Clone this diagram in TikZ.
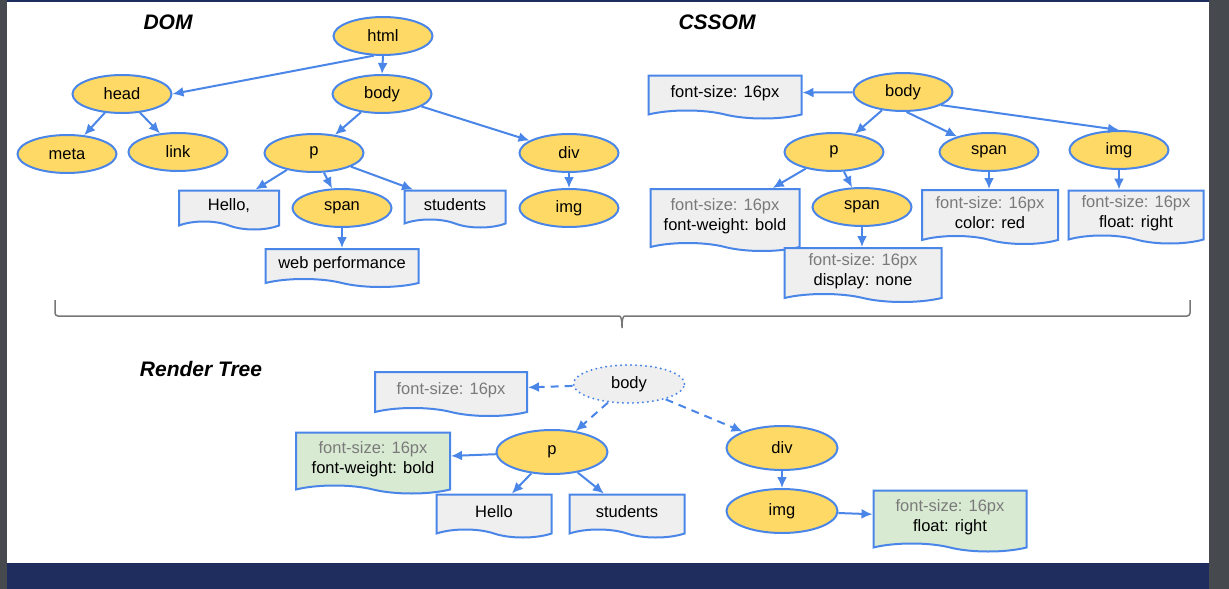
\documentclass[tikz,border=0pt]{standalone}
\usepackage{fontspec}
\setmainfont{Liberation Sans}
\usetikzlibrary{shapes.geometric,shapes.symbols,arrows.meta}
\definecolor{tagyellow}{HTML}{FFD966}
\definecolor{lineblue}{HTML}{4A86E8}
\definecolor{docgray}{HTML}{EFEFEF}
\definecolor{docgreen}{HTML}{D9EAD3}
\definecolor{softtext}{HTML}{7A7A7A}
\definecolor{framegray}{HTML}{46494D}
\definecolor{navybar}{HTML}{1F2D5E}
\definecolor{bracegray}{HTML}{777777}
\begin{document}
\begin{tikzpicture}[x=1pt,y=-1pt,font=\fontsize{16.5}{20}\selectfont]
	\tikzstyle{tag}=[ellipse,draw=lineblue,line width=2pt,fill=tagyellow,minimum width=99pt,minimum height=38pt,inner sep=0pt]
	\tikzstyle{bigtag}=[tag,minimum width=111pt,minimum height=44pt]
	\tikzstyle{ghost}=[bigtag,minimum height=38pt,fill=docgray,line width=2.2pt,line cap=round,dash pattern=on 0pt off 5pt]
	\tikzstyle{doc}=[tape,tape bend top=none,tape bend bottom=out and in,tape bend height=8pt,draw=lineblue,line width=2pt,fill=docgray,inner sep=0pt,align=center]
	\tikzstyle{greendoc}=[doc,fill=docgreen]
	\tikzstyle{arr}=[lineblue,line width=2pt,-{Latex[length=11pt,width=10pt]}]
	\tikzstyle{darr}=[arr,dash pattern=on 8pt off 6pt]
	\tikzstyle{title}=[font=\fontsize{21}{25}\selectfont\bfseries\itshape]

	% frame
	\fill[framegray] (0,0) rectangle (1229,589);
	\fill[white] (7,2) rectangle (1209,563);
	\fill[navybar] (7,563) rectangle (1209,589);
	\fill[navybar] (7,0) rectangle (1209,2);
	\useasboundingbox (0,0) rectangle (1229,589);

	%%% DOM
	\node (domtitle) at (168,22) [title] {DOM};
	\node (html) at (383,36) [tag] {html};
	\node (head) at (122,94) [tag] {head};
	\node (body) at (382,94) [tag] {body};
	\node (meta) at (67,154) [tag] {meta};
	\node (link) at (178,152) [tag] {link};
	\node (p) at (314,153) [tag] {p};
	\node (div) at (569,153) [tag] {div};
	\node (hello) at (229,206) [doc,minimum width=100pt,minimum height=39pt] {Hello,};
	\node (span) at (342,208) [tag] {span};
	\node (students) at (455,205) [doc,minimum width=101pt,minimum height=37pt] {students};
	\node (img) at (569,208) [tag] {img};
	\node (webperf) at (342,264) [doc,minimum width=153pt,minimum height=38pt] {web performance};

	\draw[arr] (html.245) -- (head.east);
	\draw[arr] (html.south) -- (body.north);
	\draw[arr] (head) -- (meta);
	\draw[arr] (head) -- (link);
	\draw[arr] (body) -- (p);
	\draw[arr] (body) -- (div);
	\draw[arr] (p) -- (hello);
	\draw[arr] (p) -- (span);
	\draw[arr] (p) -- (students);
	\draw[arr] (div) -- (img);
	\draw[arr] (span) -- (webperf);

	%%% CSSOM
	\node (csstitle) at (717,22) [title] {CSSOM};
	\node (cbody) at (903,92) [tag] {body};
	\node (cfont) at (725,93) [doc,minimum width=153pt,minimum height=43pt] {font-size: 16px};
	\node (cp) at (834,152) [tag] {p};
	\node (cspan) at (989,152) [tag] {span};
	\node (cimg) at (1119,150) [tag] {img};
	\node (cpbox) at (725,216) [doc,minimum width=149pt,minimum height=62pt] {\textcolor{softtext}{font-size: 16px}\\font-weight: bold};
	\node (cspan2) at (862,207) [tag] {span};
	\node (cspanbox) at (990,213) [doc,minimum width=136pt,minimum height=54pt] {\textcolor{softtext}{font-size: 16px}\\color: red};
	\node (cimgbox) at (1136,213) [doc,minimum width=135pt,minimum height=53pt] {\textcolor{softtext}{font-size: 16px}\\float: right};
	\node (cdisplay) at (863,271) [doc,minimum width=157pt,minimum height=54pt] {\textcolor{softtext}{font-size: 16px}\\display: none};

	\draw[arr] (cbody) -- (cfont);
	\draw[arr] (cbody) -- (cp);
	\draw[arr] (cbody.280) -- (cspan);
	\draw[arr] (cbody.-19) -- (cimg.north);
	\draw[arr] (cp) -- (cpbox);
	\draw[arr] (cp) -- (cspan2);
	\draw[arr] (cspan.south) -- (cspan.south |- cspanbox.north);
	\draw[arr] (cimg.south) -- (cimg.south |- cimgbox.north);
	\draw[arr] (cspan2.south) -- (cspan2.south |- cdisplay.north);

	%%% brace
	\draw[bracegray,line width=1.5pt,rounded corners=3pt] (55,300) -- (55,316) -- (616,316)
		.. controls (621,316) and (622,319) .. (622,330)
		.. controls (622,319) and (623,316) .. (628,316) -- (1190,316) -- (1190,300);

	%%% Render Tree
	\node (rtitle) at (201,369) [title] {Render Tree};
	\node (rbody) at (629,384) [ghost] {body};
	\node (rfont) at (451,390) [doc,minimum width=152pt,minimum height=44pt] {\textcolor{softtext}{font-size: 16px}};
	\node (rp) at (552,452) [bigtag] {p};
	\node (rpbox) at (373,459) [greendoc,minimum width=154pt,minimum height=61pt] {\textcolor{softtext}{font-size: 16px}\\font-weight: bold};
	\node (rhello) at (494,512) [doc,minimum width=115pt,minimum height=43pt] {Hello};
	\node (rstudents) at (627,512) [doc,minimum width=115pt,minimum height=43pt] {students};
	\node (rdiv) at (782,448) [bigtag] {div};
	\node (rimg) at (782,511) [bigtag] {img};
	\node (rimgbox) at (950,517) [greendoc,minimum width=153pt,minimum height=61pt] {\textcolor{softtext}{font-size: 16px}\\float: right};

	\draw[darr] (rbody) -- (rfont);
	\draw[darr] (rbody) -- (rp);
	\draw[darr] (rbody) -- (rdiv);
	\draw[arr] (rp) -- (rpbox);
	\draw[arr] (rp) -- (rhello);
	\draw[arr] (rp) -- (rstudents);
	\draw[arr] (rdiv) -- (rimg);
	\draw[arr] (rimg) -- (rimgbox);
\end{tikzpicture}
\end{document}
